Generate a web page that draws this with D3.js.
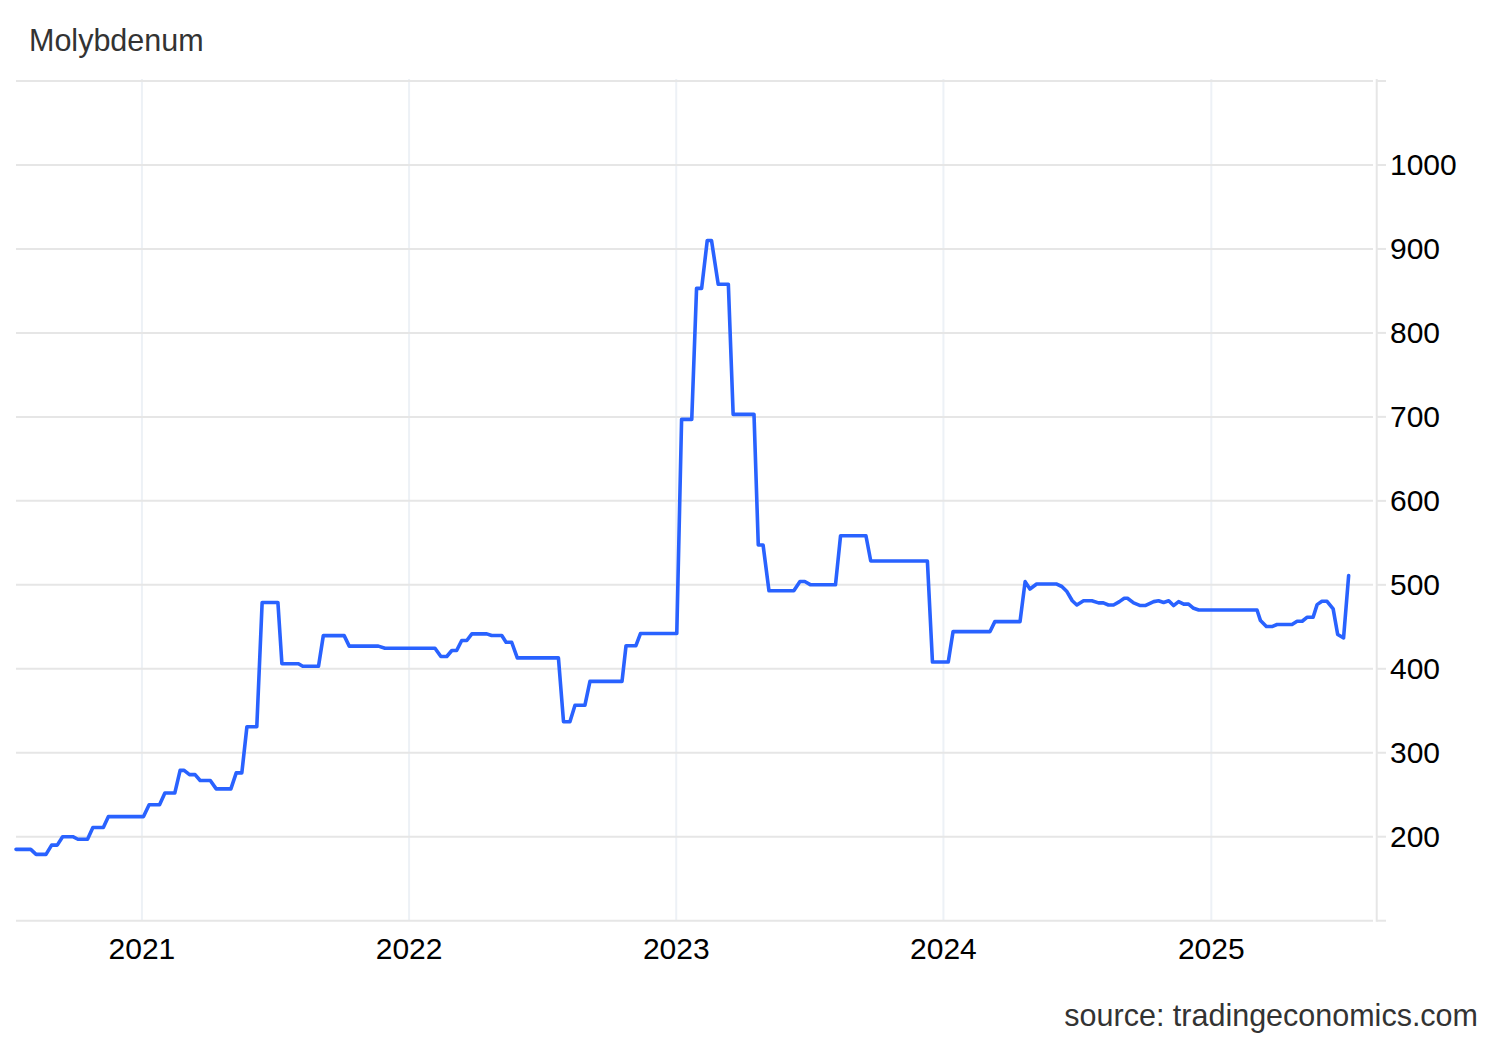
<!DOCTYPE html>
<html>
<head>
<meta charset="utf-8">
<script src="https://cdn.jsdelivr.net/npm/d3@7"></script>
<style>
  html, body { margin: 0; padding: 0; background: #fff; }
  svg { display: block; font-family: "Liberation Sans", Arial, Helvetica, sans-serif; }
</style>
</head>
<body>
<svg id="chart" width="1500" height="1040"></svg>
<script>
// ---- Data (decimal years, price) ----
const title = "Molybdenum";
const sourceText = "source: tradingeconomics.com";
const dates = [
  2020.530, 2020.585, 2020.605, 2020.642, 2020.663, 2020.684, 2020.704, 2020.742, 2020.761, 2020.797,
  2020.817, 2020.856, 2020.875, 2021.006, 2021.027, 2021.066, 2021.086, 2021.123, 2021.143, 2021.158,
  2021.178, 2021.199, 2021.218, 2021.256, 2021.278, 2021.333, 2021.353, 2021.374, 2021.393, 2021.430,
  2021.450, 2021.509, 2021.524, 2021.586, 2021.602, 2021.661, 2021.679, 2021.757, 2021.776, 2021.885,
  2021.910, 2022.097, 2022.119, 2022.141, 2022.160, 2022.178, 2022.197, 2022.216, 2022.235, 2022.291,
  2022.309, 2022.347, 2022.363, 2022.384, 2022.405, 2022.559, 2022.578, 2022.602, 2022.621, 2022.658,
  2022.677, 2022.797, 2022.812, 2022.849, 2022.866, 2023.002, 2023.020, 2023.058, 2023.076, 2023.095,
  2023.116, 2023.132, 2023.157, 2023.195, 2023.213, 2023.291, 2023.307, 2023.325, 2023.347, 2023.440,
  2023.463, 2023.481, 2023.503, 2023.596, 2023.615, 2023.710, 2023.728, 2023.940, 2023.959, 2024.018,
  2024.036, 2024.174, 2024.192, 2024.286, 2024.305, 2024.323, 2024.348, 2024.421, 2024.442, 2024.461,
  2024.481, 2024.498, 2024.523, 2024.554, 2024.579, 2024.597, 2024.616, 2024.635, 2024.657, 2024.675,
  2024.687, 2024.710, 2024.735, 2024.753, 2024.785, 2024.803, 2024.822, 2024.841, 2024.859, 2024.878,
  2024.897, 2024.915, 2024.934, 2024.953, 2025.171, 2025.184, 2025.206, 2025.227, 2025.246, 2025.302,
  2025.321, 2025.340, 2025.358, 2025.381, 2025.396, 2025.414, 2025.433, 2025.456, 2025.473, 2025.495,
  2025.514
];
const values = [
  185, 185, 179, 179, 190, 190, 200, 200, 197, 197,
  211, 211, 224, 224, 238, 238, 252, 252, 279, 279,
  274, 274, 267, 267, 257, 257, 276, 276, 331, 331,
  479, 479, 406, 406, 403, 403, 439.5, 439.5, 427, 427,
  424.5, 424.5, 414.6, 414.6, 421.8, 421.8, 433.7, 433.7, 441.6, 441.6,
  439.6, 439.6, 431.6, 431.6, 413, 413, 337, 337, 356.5, 356.5,
  385, 385, 427.5, 427.5, 442, 442, 697, 697, 853, 853,
  910, 910, 858, 858, 703, 703, 547.5, 547.5, 493, 493,
  504, 504, 500, 500, 558.4, 558.4, 528.4, 528.4, 408, 408,
  444.3, 444.3, 456.2, 456.2, 503.8, 495, 501, 501, 498, 492,
  481, 476, 481, 481, 478.5, 478.5, 476, 476, 480, 484,
  484, 478.5, 475.3, 475.3, 480, 481, 479, 481, 475.3, 480,
  477, 477, 472, 470, 470, 457.4, 450.3, 450.3, 452.7, 452.7,
  456.6, 456.6, 461.3, 461.3, 476.4, 480.4, 480.4, 471.3, 440.8, 436.9,
  511
];
const yTicks = [200, 300, 400, 500, 600, 700, 800, 900, 1000];
const yGrid = [100, 200, 300, 400, 500, 600, 700, 800, 900, 1000, 1100];
const xDomainDec = [2020.530, 2025.619];

// ---- Helpers ----
function decToDate(v) {
  const yr = Math.floor(v);
  const s = Date.UTC(yr, 0, 1), e = Date.UTC(yr + 1, 0, 1);
  return new Date(s + (v - yr) * (e - s));
}
const data = dates.map((d, i) => ({ date: decToDate(d), value: values[i] }));

// ---- Layout ----
const plotL = 16, plotR = 1376.7, plotT = 81, plotB = 920.7;
const svg = d3.select("#chart");

const x = d3.scaleUtc().domain(xDomainDec.map(decToDate)).range([plotL, plotR]);
const y = d3.scaleLinear().domain([100, 1100]).range([plotB, plotT]);

// Vertical gridlines (years)
const yearTicks = x.ticks(d3.utcYear.every(1));
svg.append("g").selectAll("line").data(yearTicks).join("line")
  .attr("x1", d => x(d)).attr("x2", d => x(d))
  .attr("y1", 79).attr("y2", plotB)
  .attr("stroke", "#edf1f6").attr("stroke-width", 2);

// Horizontal gridlines
svg.append("g").selectAll("line").data(yGrid).join("line")
  .attr("x1", plotL).attr("x2", 1373)
  .attr("y1", d => y(d)).attr("y2", d => y(d))
  .attr("stroke", "#e6e6e6").attr("stroke-width", 2);

// Right axis line and ticks
svg.append("line")
  .attr("x1", plotR).attr("x2", plotR).attr("y1", 79).attr("y2", plotB + 1)
  .attr("stroke", "#e6e6e6").attr("stroke-width", 2);
svg.append("g").selectAll("line").data(yGrid).join("line")
  .attr("x1", plotR).attr("x2", 1386)
  .attr("y1", d => y(d)).attr("y2", d => y(d))
  .attr("stroke", "#e6e6e6").attr("stroke-width", 2);

// Y tick labels
svg.append("g").selectAll("text").data(yTicks).join("text")
  .attr("x", 1390).attr("y", d => y(d) + 10.5)
  .attr("font-size", 30).attr("fill", "#000")
  .text(d => d);

// X tick labels
const fmt = d3.utcFormat("%Y");
svg.append("g").selectAll("text").data(yearTicks).join("text")
  .attr("x", d => x(d)).attr("y", 959)
  .attr("text-anchor", "middle")
  .attr("font-size", 30).attr("fill", "#000")
  .text(d => fmt(d));

// Line
const line = d3.line().x(d => x(d.date)).y(d => y(d.value)).curve(d3.curveLinear);
svg.append("path").datum(data)
  .attr("d", line)
  .attr("fill", "none")
  .attr("stroke", "#2962ff")
  .attr("stroke-width", 3.6)
  .attr("stroke-linejoin", "round")
  .attr("stroke-linecap", "round");

// Title
svg.append("text").attr("x", 29).attr("y", 51)
  .attr("font-size", 30.5).attr("fill", "#333").text(title);

// Source
svg.append("text").attr("x", 1478).attr("y", 1026)
  .attr("text-anchor", "end")
  .attr("font-size", 30.5).attr("fill", "#333").text(sourceText);
</script>
</body>
</html>
